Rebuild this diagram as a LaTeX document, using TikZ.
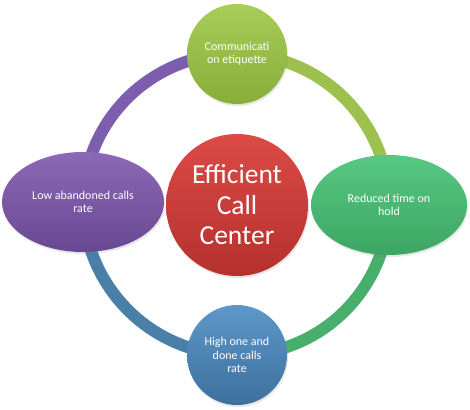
\documentclass[tikz,border=0pt]{standalone}
\usepackage{fontspec}
\setmainfont{Carlito}
\usetikzlibrary{shapes.geometric,backgrounds,shadows}

\definecolor{redtop}{HTML}{DC4B46}
\definecolor{redbot}{HTML}{B5302D}
\definecolor{limetop}{HTML}{A8CD58}
\definecolor{limebot}{HTML}{86AE39}
\definecolor{greentop}{HTML}{57C883}
\definecolor{greenbot}{HTML}{3DA563}
\definecolor{bluetop}{HTML}{5C98CA}
\definecolor{bluebot}{HTML}{3E709C}
\definecolor{violettop}{HTML}{8C69B6}
\definecolor{violetbot}{HTML}{694893}
\definecolor{ringlime}{HTML}{9DC04E}
\definecolor{ringgreen}{HTML}{48AE6C}
\definecolor{ringblue}{HTML}{4A80A8}
\definecolor{ringviolet}{HTML}{7D5DAE}

\begin{document}
\begin{tikzpicture}[x=1pt,y=1pt,
  bubble/.style={draw=none,text=white,align=center,inner sep=0pt,
    font=\fontsize{12}{13.5}\selectfont,
    drop shadow={opacity=0.2,shadow xshift=1pt,shadow yshift=-2pt}},
  roundbubble/.style={bubble,circle,minimum size=100pt},
  flatbubble/.style={bubble,ellipse,minimum height=100pt},
  ring/.style={line width=12pt,line cap=round}]
\useasboundingbox (-237,-204) rectangle (233,205);

\node[circle,draw=none,minimum size=142pt,inner sep=0pt,
  top color=redtop,bottom color=redbot,text=white,align=center,
  font=\fontsize{27.5}{30.5}\selectfont,
  drop shadow={opacity=0.2,shadow xshift=1pt,shadow yshift=-2pt}]
  (cen) at (0,0) {Efficient\\Call\\Center};

\node[roundbubble,top color=limetop,bottom color=limebot]
  (etiq) at (0,151) {Communicati\\on etiquette};
\node[flatbubble,minimum width=156pt,top color=greentop,bottom color=greenbot]
  (hold) at (152,0) {Reduced time on\\hold};
\node[roundbubble,top color=bluetop,bottom color=bluebot]
  (done) at (0,-150) {High one and\\done calls\\rate};
\node[flatbubble,minimum width=162pt,top color=violettop,bottom color=violetbot]
  (aband) at (-154,3) {Low abandoned calls\\rate};

\begin{scope}[on background layer]
\draw[ring,ringlime] (etiq.center) to[bend left=45] (hold.center);
\draw[ring,ringgreen] (hold.center) to[bend left=45] (done.center);
\draw[ring,ringblue] (done.center) to[bend left=45] (aband.center);
\draw[ring,ringviolet] (aband.center) to[bend left=45] (etiq.center);
\end{scope}
\end{tikzpicture}
\end{document}
